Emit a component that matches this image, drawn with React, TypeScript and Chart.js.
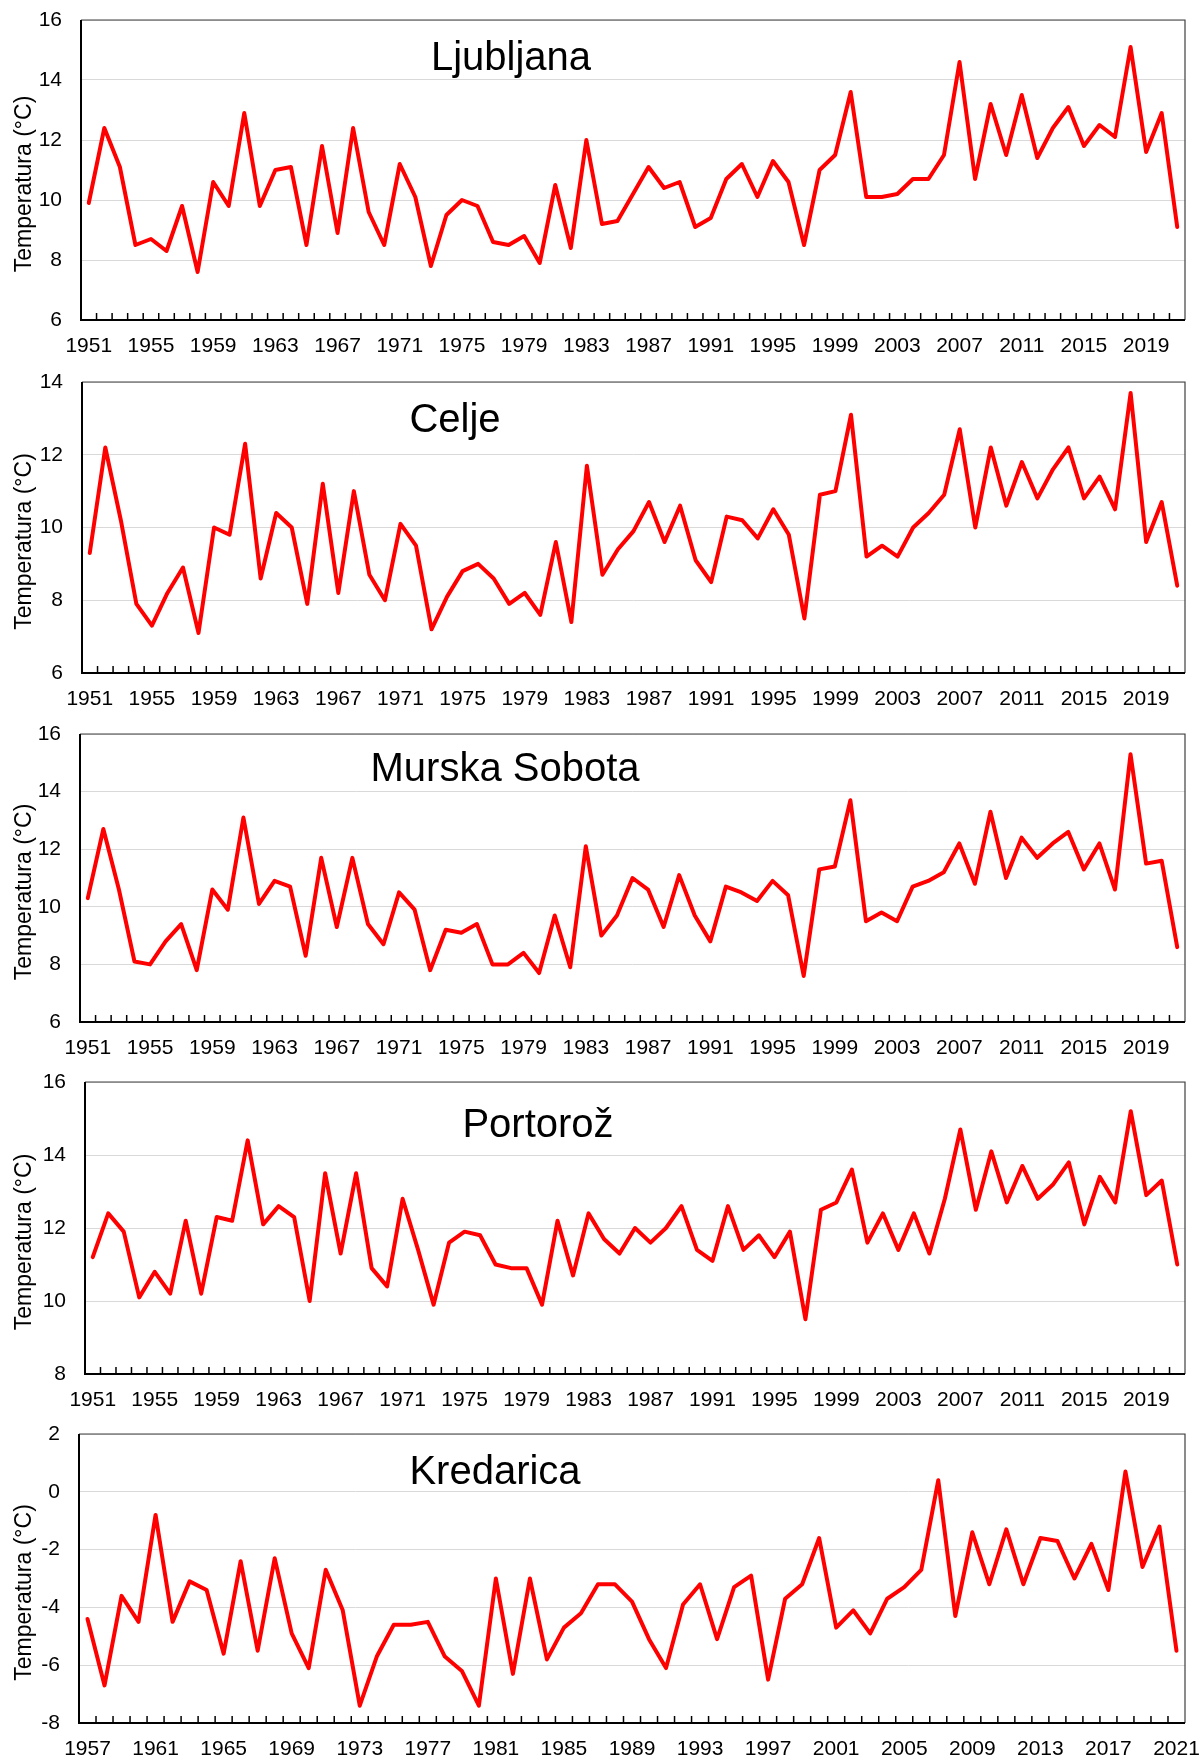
import React, { useEffect, useRef } from 'react';
import { Chart, registerables } from 'chart.js';

Chart.register(...registerables);

const FONT = '"Liberation Sans", Arial, Helvetica, sans-serif';

// Categories
const yearsMain = [
  1951, 1952, 1953, 1954, 1955, 1956, 1957, 1958, 1959, 1960,
  1961, 1962, 1963, 1964, 1965, 1966, 1967, 1968, 1969, 1970,
  1971, 1972, 1973, 1974, 1975, 1976, 1977, 1978, 1979, 1980,
  1981, 1982, 1983, 1984, 1985, 1986, 1987, 1988, 1989, 1990,
  1991, 1992, 1993, 1994, 1995, 1996, 1997, 1998, 1999, 2000,
  2001, 2002, 2003, 2004, 2005, 2006, 2007, 2008, 2009, 2010,
  2011, 2012, 2013, 2014, 2015, 2016, 2017, 2018, 2019, 2020,
  2021,
];
const yearsKredarica = [
  1957, 1958, 1959, 1960,
  1961, 1962, 1963, 1964, 1965, 1966, 1967, 1968, 1969, 1970,
  1971, 1972, 1973, 1974, 1975, 1976, 1977, 1978, 1979, 1980,
  1981, 1982, 1983, 1984, 1985, 1986, 1987, 1988, 1989, 1990,
  1991, 1992, 1993, 1994, 1995, 1996, 1997, 1998, 1999, 2000,
  2001, 2002, 2003, 2004, 2005, 2006, 2007, 2008, 2009, 2010,
  2011, 2012, 2013, 2014, 2015, 2016, 2017, 2018, 2019, 2020,
  2021,
];

// Series values (°C)
const ljubljana = [
  9.9, 12.4, 11.1, 8.5, 8.7, 8.3, 9.8, 7.6, 10.6, 9.8,
  12.9, 9.8, 11.0, 11.1, 8.5, 11.8, 8.9, 12.4, 9.6, 8.5,
  11.2, 10.1, 7.8, 9.5, 10.0, 9.8, 8.6, 8.5, 8.8, 7.9,
  10.5, 8.4, 12.0, 9.2, 9.3, 10.2, 11.1, 10.4, 10.6, 9.1,
  9.4, 10.7, 11.2, 10.1, 11.3, 10.6, 8.5, 11.0, 11.5, 13.6,
  10.1, 10.1, 10.2, 10.7, 10.7, 11.5, 14.6, 10.7, 13.2, 11.5,
  13.5, 11.4, 12.4, 13.1, 11.8, 12.5, 12.1, 15.1, 11.6, 12.9,
  9.1,
];
const celje = [
  9.3, 12.2, 10.2, 7.9, 7.3, 8.2, 8.9, 7.1, 10.0, 9.8,
  12.3, 8.6, 10.4, 10.0, 7.9, 11.2, 8.2, 11.0, 8.7, 8.0,
  10.1, 9.5, 7.2, 8.1, 8.8, 9.0, 8.6, 7.9, 8.2, 7.6,
  9.6, 7.4, 11.7, 8.7, 9.4, 9.9, 10.7, 9.6, 10.6, 9.1,
  8.5, 10.3, 10.2, 9.7, 10.5, 9.8, 7.5, 10.9, 11.0, 13.1,
  9.2, 9.5, 9.2, 10.0, 10.4, 10.9, 12.7, 10.0, 12.2, 10.6,
  11.8, 10.8, 11.6, 12.2, 10.8, 11.4, 10.5, 13.7, 9.6, 10.7,
  8.4,
];
const murskaSobota = [
  10.3, 12.7, 10.6, 8.1, 8.0, 8.8, 9.4, 7.8, 10.6, 9.9,
  13.1, 10.1, 10.9, 10.7, 8.3, 11.7, 9.3, 11.7, 9.4, 8.7,
  10.5, 9.9, 7.8, 9.2, 9.1, 9.4, 8.0, 8.0, 8.4, 7.7,
  9.7, 7.9, 12.1, 9.0, 9.7, 11.0, 10.6, 9.3, 11.1, 9.7,
  8.8, 10.7, 10.5, 10.2, 10.9, 10.4, 7.6, 11.3, 11.4, 13.7,
  9.5, 9.8, 9.5, 10.7, 10.9, 11.2, 12.2, 10.8, 13.3, 11.0,
  12.4, 11.7, 12.2, 12.6, 11.3, 12.2, 10.6, 15.3, 11.5, 11.6,
  8.6,
];
const portoroz = [
  11.2, 12.4, 11.9, 10.1, 10.8, 10.2, 12.2, 10.2, 12.3, 12.2,
  14.4, 12.1, 12.6, 12.3, 10.0, 13.5, 11.3, 13.5, 10.9, 10.4,
  12.8, 11.4, 9.9, 11.6, 11.9, 11.8, 11.0, 10.9, 10.9, 9.9,
  12.2, 10.7, 12.4, 11.7, 11.3, 12.0, 11.6, 12.0, 12.6, 11.4,
  11.1, 12.6, 11.4, 11.8, 11.2, 11.9, 9.5, 12.5, 12.7, 13.6,
  11.6, 12.4, 11.4, 12.4, 11.3, 12.8, 14.7, 12.5, 14.1, 12.7,
  13.7, 12.8, 13.2, 13.8, 12.1, 13.4, 12.7, 15.2, 12.9, 13.3,
  11.0,
];
const kredarica = [
  -4.4, -6.7, -3.6, -4.5,
  -0.8, -4.5, -3.1, -3.4, -5.6, -2.4, -5.5, -2.3, -4.9, -6.1,
  -2.7, -4.1, -7.4, -5.7, -4.6, -4.6, -4.5, -5.7, -6.2, -7.4,
  -3.0, -6.3, -3.0, -5.8, -4.7, -4.2, -3.2, -3.2, -3.8, -5.1,
  -6.1, -3.9, -3.2, -5.1, -3.3, -2.9, -6.5, -3.7, -3.2, -1.6,
  -4.7, -4.1, -4.9, -3.7, -3.3, -2.7, 0.4, -4.3, -1.4, -3.2,
  -1.3, -3.2, -1.6, -1.7, -3.0, -1.8, -3.4, 0.7, -2.6, -1.2,
  -5.5,
];

const stationNames = ['Ljubljana', 'Celje', 'Murska Sobota', 'Portorož', 'Kredarica'];
const yAxisTitle = 'Temperatura (°C)';

const decorPlugin = {
  id: 'decor',
  afterDraw(chart: any, _args: any, opts: any) {
    const { ctx, chartArea: a, scales } = chart;
    const xs = scales.x;
    const n = chart.data.labels.length;
    ctx.save();
    // inward tick marks at category boundaries
    ctx.strokeStyle = '#000';
    ctx.lineWidth = 1.5;
    for (let i = 1; i < n; i++) {
      const px = (xs.getPixelForValue(i - 1) + xs.getPixelForValue(i)) / 2;
      ctx.beginPath();
      ctx.moveTo(px, a.bottom);
      ctx.lineTo(px, a.bottom - 7);
      ctx.stroke();
    }
    // top / right frame
    ctx.strokeStyle = '#404040';
    ctx.lineWidth = 1.2;
    ctx.beginPath();
    ctx.moveTo(a.left, a.top);
    ctx.lineTo(a.right, a.top);
    ctx.lineTo(a.right, a.bottom);
    ctx.stroke();
    // axes
    ctx.strokeStyle = '#000';
    ctx.lineWidth = 2;
    ctx.beginPath();
    ctx.moveTo(a.left, a.top);
    ctx.lineTo(a.left, a.bottom);
    ctx.lineTo(a.right, a.bottom);
    ctx.stroke();
    // station title
    ctx.fillStyle = '#000';
    ctx.font = `40px ${FONT}`;
    ctx.textAlign = 'center';
    ctx.textBaseline = 'alphabetic';
    ctx.fillText(opts.title, opts.cx, a.top + opts.dy);
    // y axis title
    ctx.font = `23px ${FONT}`;
    ctx.translate(31, (a.top + a.bottom) / 2 + 14);
    ctx.rotate(-Math.PI / 2);
    ctx.fillText(yAxisTitle, 0, 0);
    ctx.restore();
  },
};

type PanelProps = {
  top: number;
  plotH: number;
  left: number;
  labels: number[];
  values: number[];
  yMin: number;
  yMax: number;
  title: string;
  cx: number;
  dy: number;
};

const PAD_TOP = 20;
const X_AXIS_H = 36;

function Panel(p: PanelProps) {
  const ref = useRef<HTMLCanvasElement | null>(null);
  const H = PAD_TOP + p.plotH + X_AXIS_H;
  useEffect(() => {
    if (!ref.current) return;
    const labels = p.labels.map(String);
    const chart = new Chart(ref.current, {
      type: 'line',
      data: {
        labels,
        datasets: [
          {
            data: p.values,
            borderColor: '#ff0000',
            borderWidth: 4,
            pointRadius: 0,
            tension: 0,
            fill: false,
            borderJoinStyle: 'round',
            borderCapStyle: 'round',
          },
        ],
      },
      options: {
        animation: false,
        responsive: false,
        devicePixelRatio: 1,
        layout: { padding: { top: PAD_TOP, right: 19, left: 0, bottom: 0 } },
        plugins: {
          legend: { display: false },
          tooltip: { enabled: false },
          decor: { title: p.title, cx: p.cx, dy: p.dy },
        } as any,
        scales: {
          x: {
            type: 'category',
            offset: true,
            grid: { display: false, drawTicks: false },
            border: { display: false },
            ticks: {
              autoSkip: false,
              maxRotation: 0,
              minRotation: 0,
              padding: 14,
              color: '#000',
              font: { family: FONT, size: 21 },
              callback: (_v: any, i: number) => (i % 4 === 0 ? labels[i] : ''),
            },
            afterFit: (s: any) => {
              s.height = X_AXIS_H;
              s.paddingLeft = 0;
              s.paddingRight = 0;
            },
          },
          y: {
            min: p.yMin,
            max: p.yMax,
            ticks: {
              stepSize: 2,
              padding: 19,
              color: '#000',
              font: { family: FONT, size: 21 },
              callback: (v: any) => String(v),
            },
            grid: { color: '#d9d9d9', lineWidth: 1, drawTicks: false },
            border: { display: false },
            afterFit: (s: any) => {
              s.width = p.left;
              s.paddingTop = 0;
              s.paddingBottom = 0;
            },
          },
        },
      } as any,
      plugins: [decorPlugin],
    });
    return () => chart.destroy();
  }, []);
  return (
    <div style={{ position: 'absolute', left: 0, top: p.top - PAD_TOP, width: 1204, height: H }}>
      <canvas ref={ref} width={1204} height={H} style={{ display: 'block' }} />
    </div>
  );
}

export default function App() {
  return (
    <div style={{ position: 'absolute', left: 0, top: 0, width: 1204, height: 1759, background: '#fff', overflow: 'hidden' }}>
      <Panel top={20} plotH={300} left={81} labels={yearsMain} values={ljubljana} yMin={6} yMax={16} title={stationNames[0]} cx={511} dy={50} />
      <Panel top={382} plotH={291} left={82} labels={yearsMain} values={celje} yMin={6} yMax={14} title={stationNames[1]} cx={455} dy={50} />
      <Panel top={734} plotH={288} left={80} labels={yearsMain} values={murskaSobota} yMin={6} yMax={16} title={stationNames[2]} cx={505} dy={47} />
      <Panel top={1082} plotH={292} left={85} labels={yearsMain} values={portoroz} yMin={8} yMax={16} title={stationNames[3]} cx={538} dy={55} />
      <Panel top={1434} plotH={289} left={79} labels={yearsKredarica} values={kredarica} yMin={-8} yMax={2} title={stationNames[4]} cx={495} dy={50} />
    </div>
  );
}
